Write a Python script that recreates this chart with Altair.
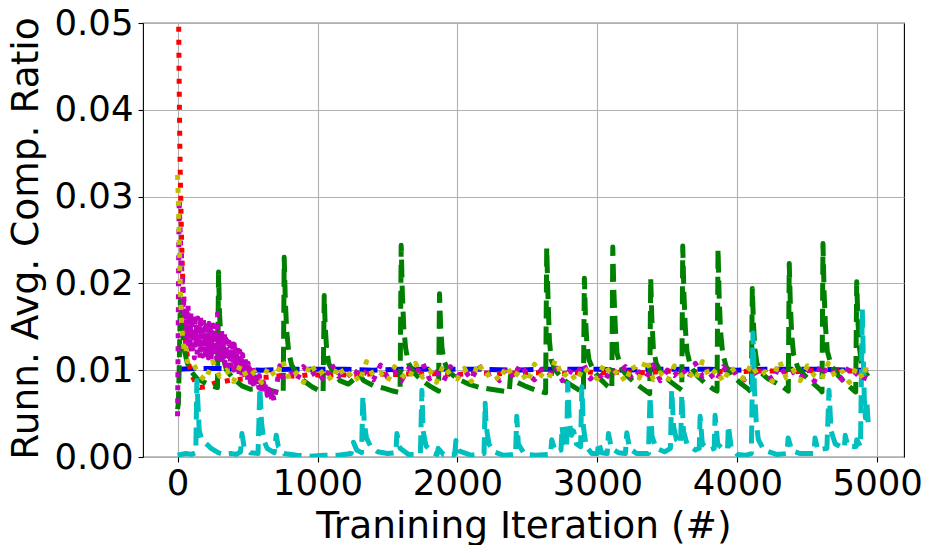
import altair as alt
import pandas as pd

# ---------------- data ----------------
blue_x = [0, 150, 300, 450, 600, 800, 1000, 1200, 1400, 1600, 1800, 2000, 2200, 2400,
          2600, 2800, 3000, 3200, 3400, 3600, 3800, 4000, 4200, 4400, 4600, 4800, 4935]
blue_y = [0.0101, 0.0102, 0.0102, 0.0101, 0.0100, 0.0101, 0.0101, 0.0101, 0.0100, 0.0101,
          0.0101, 0.0101, 0.0101, 0.0100, 0.0101, 0.0101, 0.0101, 0.0100, 0.0101, 0.0101,
          0.0101, 0.0100, 0.0101, 0.0101, 0.0101, 0.0100, 0.0100]

red_x = [0, 4, 8, 12, 16, 20, 25, 30, 40, 55,
         75, 100, 130, 160, 200, 260, 330, 400, 480, 560,
         650, 750, 850, 950, 1050, 1150, 1250, 1400, 1550, 1700,
         1850, 2000, 2150, 2300, 2450, 2600, 2750, 2900, 3050, 3200,
         3350, 3500, 3650, 3800, 3950, 4100, 4250, 4400, 4550, 4700,
         4850, 4935]
red_y = [0.0900, 0.0650, 0.0500, 0.0420, 0.0360, 0.0320, 0.0280, 0.0240, 0.0190, 0.0135,
         0.0110, 0.0095, 0.0085, 0.0080, 0.0081, 0.0085, 0.0087, 0.0089, 0.0090, 0.0092,
         0.0092, 0.0094, 0.0093, 0.0095, 0.0094, 0.0095, 0.0094, 0.0096, 0.0095, 0.0096,
         0.0096, 0.0095, 0.0097, 0.0096, 0.0097, 0.0097, 0.0096, 0.0098, 0.0097, 0.0098,
         0.0097, 0.0099, 0.0098, 0.0099, 0.0098, 0.0099, 0.0099, 0.0098, 0.0100, 0.0099,
         0.0099, 0.0099]

green_x = [0, 6, 12, 20, 28, 38, 50, 70, 100, 140, 190, 240, 285,
           293, 300, 310, 325, 350, 400, 460, 520, 600, 680, 755,
           762, 770, 780, 795, 815, 850, 900, 960, 1040,
           1048, 1055, 1065, 1080, 1110, 1160, 1220, 1300, 1330, 1400, 1480, 1540, 1590,
           1598, 1606, 1616, 1630, 1650, 1690, 1740, 1800, 1865,
           1872, 1880, 1890, 1905, 1940, 2000, 2080, 2160, 2240, 2370, 2380, 2400, 2480, 2560, 2630,
           2638, 2646, 2657, 2670, 2700, 2750, 2810, 2870, 2900,
           2907, 2915, 2925, 2940, 2970, 3020, 3070, 3103,
           3110, 3118, 3128, 3140, 3165, 3210, 3270, 3330, 3374,
           3381, 3389, 3400, 3420, 3460, 3520, 3570, 3603,
           3610, 3618, 3628, 3640, 3665, 3710, 3770, 3830, 3855,
           3862, 3870, 3880, 3895, 3920, 3970, 4030, 4080, 4100,
           4107, 4115, 4125, 4140, 4170, 4220, 4280, 4330, 4364,
           4371, 4379, 4389, 4402, 4430, 4480, 4540, 4590, 4605,
           4612, 4620, 4630, 4643, 4670, 4720, 4780, 4830, 4846,
           4853, 4861, 4871, 4885, 4910, 4935]
green_y = [0.0055, 0.0062, 0.0105, 0.0180, 0.0165, 0.0140, 0.0122, 0.0108, 0.0098, 0.0090, 0.0086, 0.0082, 0.0080,
           0.0213, 0.0165, 0.0135, 0.0115, 0.0100, 0.0090, 0.0082, 0.0078, 0.0079, 0.0076, 0.0073,
           0.0230, 0.0180, 0.0145, 0.0120, 0.0106, 0.0097, 0.0088, 0.0081, 0.0074,
           0.0186, 0.0150, 0.0125, 0.0108, 0.0098, 0.0088, 0.0084, 0.0095, 0.0088, 0.0082, 0.0079, 0.0076, 0.0074,
           0.0244, 0.0190, 0.0150, 0.0125, 0.0108, 0.0097, 0.0089, 0.0082, 0.0076,
           0.0188, 0.0150, 0.0125, 0.0110, 0.0098, 0.0090, 0.0084, 0.0080, 0.0078, 0.0075, 0.0095, 0.0088, 0.0082, 0.0077, 0.0074,
           0.0241, 0.0190, 0.0135, 0.0112, 0.0100, 0.0090, 0.0083, 0.0077, 0.0074,
           0.0206, 0.0160, 0.0130, 0.0112, 0.0100, 0.0090, 0.0082, 0.0078,
           0.0242, 0.0190, 0.0150, 0.0120, 0.0104, 0.0094, 0.0085, 0.0078, 0.0073,
           0.0206, 0.0160, 0.0125, 0.0108, 0.0096, 0.0087, 0.0081, 0.0077,
           0.0243, 0.0190, 0.0150, 0.0122, 0.0105, 0.0094, 0.0085, 0.0078, 0.0076,
           0.0240, 0.0185, 0.0145, 0.0120, 0.0104, 0.0093, 0.0084, 0.0078, 0.0075,
           0.0194, 0.0155, 0.0125, 0.0108, 0.0097, 0.0090, 0.0085, 0.0080, 0.0076,
           0.0223, 0.0175, 0.0140, 0.0118, 0.0104, 0.0094, 0.0085, 0.0078, 0.0075,
           0.0246, 0.0190, 0.0150, 0.0122, 0.0106, 0.0094, 0.0084, 0.0077, 0.0075,
           0.0202, 0.0160, 0.0128, 0.0110, 0.0098, 0.0093]

cyan_x = [0, 60, 100, 130, 138, 146, 155, 170, 200, 240,
          290, 330, 380, 420, 450, 460, 475, 520, 575, 588,
          600, 615, 640, 690, 705, 720, 760, 850, 950, 1050,
          1150, 1240, 1257, 1280, 1315, 1324, 1335, 1350, 1380, 1430,
          1500, 1560, 1567, 1590, 1650, 1735, 1746, 1755, 1775, 1820,
          1855, 1862, 1900, 1980, 1989, 2010, 2100, 2190, 2198, 2205,
          2225, 2260, 2330, 2415, 2424, 2435, 2480, 2560, 2665, 2674,
          2700, 2740, 2748, 2760, 2780, 2788, 2800, 2815, 2830, 2850,
          2880, 2889, 2900, 2920, 2960, 3000, 3008, 3030, 3070, 3079,
          3100, 3150, 3200, 3210, 3230, 3280, 3365, 3376, 3390, 3420,
          3480, 3522, 3531, 3545, 3565, 3595, 3603, 3615, 3640, 3700,
          3728, 3734, 3750, 3800, 3835, 3841, 3860, 3900, 3930, 3936,
          3955, 4000, 4060, 4100, 4112, 4122, 4135, 4150, 4190, 4280,
          4355, 4363, 4390, 4450, 4548, 4555, 4575, 4640, 4655, 4670,
          4700, 4765, 4771, 4790, 4848, 4853, 4880, 4893, 4900, 4908,
          4915, 4925, 4935]
cyan_y = [0.0002, 0.0004, 0.0003, 0.0005, 0.0088, 0.0060, 0.0030, 0.0022, 0.0016, 0.0010,
          0.0005, 0.0003, 0.0004, 0.0003, 0.0006, 0.0027, 0.0012, 0.0005, 0.0004, 0.0080,
          0.0040, 0.0020, 0.0010, 0.0005, 0.0025, 0.0012, 0.0004, 0.0002, 0.0001, 0.0002,
          0.0002, 0.0004, 0.0017, 0.0008, 0.0005, 0.0070, 0.0038, 0.0022, 0.0012, 0.0006,
          0.0004, 0.0005, 0.0027, 0.0010, 0.0003, 0.0003, 0.0077, 0.0030, 0.0013, 0.0005,
          0.0003, 0.0010, 0.0003, 0.0003, 0.0019, 0.0007, 0.0002, 0.0004, 0.0062, 0.0036,
          0.0015, 0.0006, 0.0002, 0.0003, 0.0047, 0.0015, 0.0003, 0.0002, 0.0003, 0.0020,
          0.0006, 0.0008, 0.0035, 0.0015, 0.0010, 0.0085, 0.0040, 0.0025, 0.0030, 0.0015,
          0.0012, 0.0081, 0.0035, 0.0012, 0.0004, 0.0004, 0.0017, 0.0005, 0.0004, 0.0027,
          0.0010, 0.0005, 0.0004, 0.0028, 0.0010, 0.0004, 0.0004, 0.0070, 0.0024, 0.0010,
          0.0006, 0.0010, 0.0077, 0.0035, 0.0020, 0.0015, 0.0072, 0.0030, 0.0015, 0.0008,
          0.0010, 0.0047, 0.0015, 0.0008, 0.0010, 0.0048, 0.0015, 0.0008, 0.0010, 0.0036,
          0.0012, 0.0003, 0.0002, 0.0004, 0.0143, 0.0080, 0.0040, 0.0020, 0.0008, 0.0003,
          0.0004, 0.0022, 0.0007, 0.0004, 0.0004, 0.0022, 0.0008, 0.0010, 0.0077, 0.0030,
          0.0015, 0.0010, 0.0025, 0.0012, 0.0012, 0.0020, 0.0012, 0.0170, 0.0115, 0.0065,
          0.0045, 0.0065, 0.0040]

mag_x = [0, 4, 8, 12, 16, 20, 24, 28, 32, 36, 40, 45, 50,
         55, 60, 65, 70, 75, 80, 85, 90, 95, 100,
         105, 110, 115, 120, 125, 130, 135, 140, 145, 150,
         155, 160, 165, 170, 175, 180, 185, 190, 195, 200,
         205, 210, 215, 220, 225, 230, 235, 240, 245, 250,
         255, 260, 265, 270, 275, 280, 285, 290, 295, 300,
         305, 310, 315, 320, 325, 330, 335, 340, 345, 350,
         355, 360, 365, 370, 375, 380, 385, 390, 395, 400,
         405, 410, 415, 420, 425, 430, 435, 440, 445, 450,
         455, 460, 465, 470, 475, 480, 485, 490, 495, 500,
         505, 510, 515, 520, 525, 530, 535, 540, 545, 550,
         555, 560, 565, 570, 575, 580, 585, 590, 595, 600,
         605, 610, 615, 620, 625, 630, 635, 640, 645, 650,
         655, 660, 665, 670, 675, 680, 685, 690,
         730, 750, 800, 850, 900, 950, 1000, 1050, 1100, 1150,
         1200, 1250, 1300, 1350, 1400, 1450, 1500, 1550, 1600, 1650,
         1700, 1750, 1800, 1850, 1900, 1950, 2000, 2050, 2100, 2150,
         2200, 2250, 2300, 2350, 2400, 2450, 2500, 2550, 2600, 2650,
         2700, 2750, 2800, 2850, 2900, 2950, 3000, 3050, 3100, 3150,
         3200, 3250, 3300, 3350, 3400, 3450, 3500, 3550, 3600, 3650,
         3700, 3750, 3800, 3850, 3900, 3950, 4000, 4050, 4100, 4150,
         4200, 4250, 4300, 4350, 4400, 4450, 4500, 4550, 4600, 4650,
         4700, 4750, 4800, 4850, 4900, 4935]
mag_y = [0.0047, 0.0130, 0.0230, 0.0298, 0.0270, 0.0255, 0.0220, 0.0235, 0.0195, 0.0205, 0.0175, 0.0185, 0.0160,
         0.0172, 0.0128, 0.0168, 0.0135, 0.0175, 0.0122, 0.0160, 0.0130, 0.0166, 0.0118,
         0.0162, 0.0125, 0.0158, 0.0114, 0.0165, 0.0130, 0.0150, 0.0118, 0.0160, 0.0124,
         0.0155, 0.0113, 0.0163, 0.0128, 0.0152, 0.0116, 0.0158, 0.0121, 0.0149, 0.0112,
         0.0157, 0.0126, 0.0146, 0.0114, 0.0154, 0.0120, 0.0150, 0.0111, 0.0144, 0.0124,
         0.0152, 0.0115, 0.0147, 0.0119, 0.0142, 0.0110, 0.0165, 0.0122, 0.0145, 0.0112,
         0.0140, 0.0118, 0.0146, 0.0108, 0.0138, 0.0115, 0.0143, 0.0106, 0.0136, 0.0113,
         0.0134, 0.0104, 0.0139, 0.0110, 0.0131, 0.0102, 0.0133, 0.0107, 0.0128, 0.0100,
         0.0130, 0.0104, 0.0124, 0.0097, 0.0127, 0.0101, 0.0119, 0.0095, 0.0122, 0.0098,
         0.0115, 0.0093, 0.0118, 0.0096, 0.0110, 0.0090, 0.0113, 0.0092, 0.0106, 0.0088,
         0.0108, 0.0090, 0.0102, 0.0086, 0.0104, 0.0088, 0.0098, 0.0084, 0.0100, 0.0085,
         0.0095, 0.0082, 0.0097, 0.0083, 0.0092, 0.0080, 0.0094, 0.0079, 0.0089, 0.0077,
         0.0090, 0.0076, 0.0086, 0.0074, 0.0087, 0.0072, 0.0083, 0.0071, 0.0080, 0.0069,
         0.0078, 0.0068, 0.0075, 0.0066, 0.0072, 0.0065, 0.0069, 0.0064,
         0.0105, 0.0092, 0.0100, 0.0088, 0.0104, 0.0094, 0.0099, 0.0087, 0.0107, 0.0093,
         0.0100, 0.0090, 0.0103, 0.0096, 0.0089, 0.0106, 0.0092, 0.0099, 0.0088, 0.0102,
         0.0095, 0.0109, 0.0090, 0.0098, 0.0087, 0.0104, 0.0093, 0.0100, 0.0089, 0.0106,
         0.0094, 0.0097, 0.0088, 0.0103, 0.0091, 0.0107, 0.0095, 0.0089, 0.0101, 0.0093,
         0.0105, 0.0088, 0.0099, 0.0094, 0.0108, 0.0090, 0.0097, 0.0087, 0.0102, 0.0095,
         0.0104, 0.0089, 0.0098, 0.0092, 0.0106, 0.0088, 0.0100, 0.0094, 0.0103, 0.0090,
         0.0108, 0.0093, 0.0097, 0.0087, 0.0104, 0.0095, 0.0099, 0.0089, 0.0106, 0.0092,
         0.0101, 0.0088, 0.0105, 0.0094, 0.0098, 0.0090, 0.0103, 0.0087, 0.0107, 0.0093,
         0.0100, 0.0089, 0.0104, 0.0096, 0.0088, 0.0102]

yel_x = [0, 5, 10, 15, 20, 25, 30, 40, 50, 60, 70,
         100, 150, 200, 250, 300, 350, 400, 450, 500, 550,
         600, 650, 700, 750, 800, 850, 900, 950, 1000, 1050,
         1100, 1150, 1200, 1250, 1300, 1350, 1400, 1450, 1500, 1550,
         1600, 1650, 1700, 1750, 1800, 1850, 1900, 1950, 2000, 2050,
         2100, 2150, 2200, 2250, 2300, 2350, 2400, 2450, 2500, 2550,
         2600, 2650, 2700, 2750, 2800, 2850, 2900, 2950, 3000, 3050,
         3100, 3150, 3200, 3250, 3300, 3350, 3400, 3450, 3500, 3550,
         3600, 3650, 3700, 3750, 3800, 3850, 3900, 3950, 4000, 4050,
         4100, 4150, 4200, 4250, 4300, 4350, 4400, 4450, 4500, 4550,
         4600, 4650, 4700, 4750, 4800, 4850, 4900, 4930]
yel_y = [0.0325, 0.0300, 0.0265, 0.0225, 0.0195, 0.0170, 0.0150, 0.0132, 0.0120, 0.0126, 0.0110,
         0.0112, 0.0095, 0.0088, 0.0110, 0.0093, 0.0100, 0.0087, 0.0106, 0.0091, 0.0098,
         0.0086, 0.0104, 0.0092, 0.0111, 0.0089, 0.0097, 0.0086, 0.0108, 0.0094, 0.0100,
         0.0088, 0.0105, 0.0091, 0.0099, 0.0086, 0.0110, 0.0093, 0.0097, 0.0087, 0.0104,
         0.0095, 0.0089, 0.0108, 0.0092, 0.0100, 0.0086, 0.0106, 0.0094, 0.0090, 0.0102,
         0.0087, 0.0109, 0.0093, 0.0098, 0.0088, 0.0105, 0.0091, 0.0100, 0.0086, 0.0107,
         0.0094, 0.0089, 0.0112, 0.0092, 0.0099, 0.0087, 0.0104, 0.0095, 0.0090, 0.0108,
         0.0093, 0.0100, 0.0086, 0.0106, 0.0091, 0.0113, 0.0089, 0.0097, 0.0087, 0.0105,
         0.0094, 0.0099, 0.0088, 0.0110, 0.0092, 0.0101, 0.0086, 0.0104, 0.0095, 0.0090,
         0.0107, 0.0093, 0.0098, 0.0087, 0.0111, 0.0091, 0.0100, 0.0088, 0.0105, 0.0094,
         0.0089, 0.0108, 0.0092, 0.0099, 0.0086, 0.0103, 0.0090, 0.0110]

x_ticks = [0, 1000, 2000, 3000, 4000, 5000]
y_ticks = [0.0, 0.01, 0.02, 0.03, 0.04, 0.05]

# ---------------- chart ----------------
FONT = "DejaVu Sans"
xscale = alt.Scale(domain=[-247, 5191], nice=False, zero=False)
yscale = alt.Scale(domain=[0, 0.05], nice=False, zero=False)

xaxis = alt.Axis(values=x_ticks, format="d", title="Tranining Iteration (#)",
                 labelFontSize=35.5, titleFontSize=37.5, titleFontWeight="normal",
                 labelFont=FONT, titleFont=FONT, labelColor="black", titleColor="black",
                 titleY=80, titleBaseline="alphabetic",
                 grid=True, gridColor="#b0b0b0", gridWidth=1.1,
                 tickSize=5, tickWidth=1.1, tickColor="black", labelPadding=4,
                 domain=False, labelFlush=False, labelOverlap=False)
yaxis = alt.Axis(values=y_ticks, format=".2f", title="Runn. Avg. Comp. Ratio",
                 labelFontSize=35.5, titleFontSize=37.5, titleFontWeight="normal",
                 labelFont=FONT, titleFont=FONT, labelColor="black", titleColor="black",
                 titleAngle=270, titleX=-106, titleY=215, titleBaseline="alphabetic",
                 titleAlign="center",
                 grid=True, gridColor="#b0b0b0", gridWidth=1.1,
                 tickSize=5, tickWidth=1.1, tickColor="black", labelPadding=5,
                 domain=False, labelFlush=False, labelOverlap=False)

DASHED = [18, 8]
DOTTED = [5, 8]


def layer(xs, ys, color, dash):
    df = pd.DataFrame({"x": xs, "y": ys})
    return alt.Chart(df).mark_line(
        color=color, strokeWidth=5, strokeDash=dash, strokeCap="butt",
        strokeJoin="round", clip=True
    ).encode(
        x=alt.X("x:Q", scale=xscale, axis=xaxis),
        y=alt.Y("y:Q", scale=yscale, axis=yaxis),
    )


chart = alt.layer(
    layer(blue_x, blue_y, "#0000ff", DASHED),
    layer(red_x, red_y, "#ff0000", DOTTED),
    layer(green_x, green_y, "#008000", DASHED),
    layer(cyan_x, cyan_y, "#00bfbf", DASHED),
    layer(mag_x, mag_y, "#bf00bf", DOTTED),
    layer(yel_x, yel_y, "#bfbf00", DOTTED),
).properties(
    width=761, height=434,
    padding={"left": 135, "top": 15, "right": 22, "bottom": 88},
    autosize=alt.AutoSizeParams(type="none"),
    background="white",
).configure_view(stroke="black", strokeWidth=1.1)

chart.save("out.html", embed_options={"renderer": "svg", "actions": False})
